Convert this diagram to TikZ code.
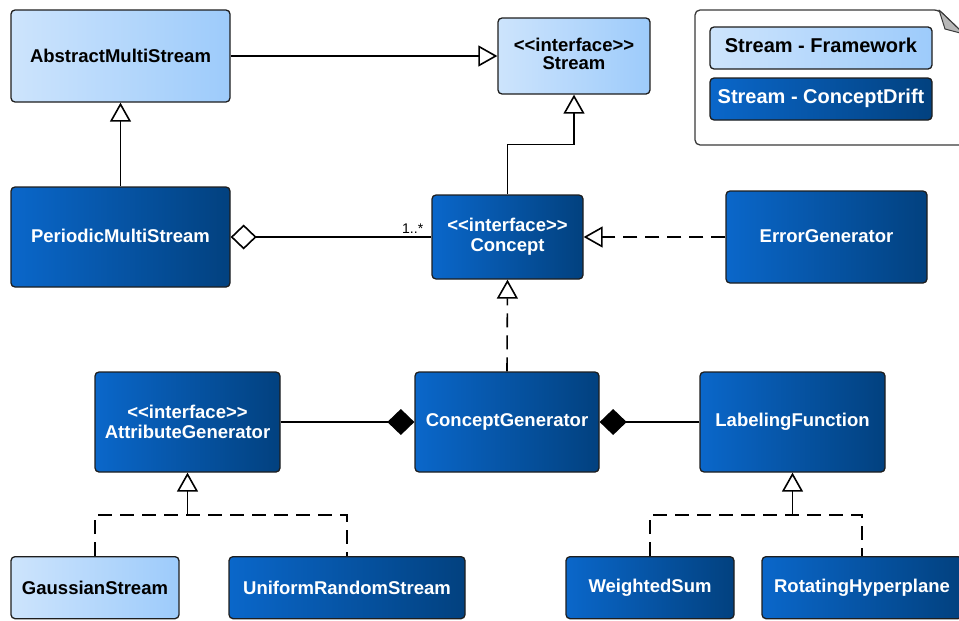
\documentclass[tikz,border=0pt]{standalone}
\usepackage{fontspec}
\setmainfont{Liberation Sans}[Ligatures=TeXOff]
\usetikzlibrary{arrows.meta,calc}
\definecolor{lightL}{HTML}{CDE4FC}
\definecolor{lightR}{HTML}{9DCBFB}
\definecolor{darkL}{HTML}{0A67CA}
\definecolor{darkR}{HTML}{02417F}
\definecolor{edgec}{HTML}{1E1E1E}
\definecolor{notec}{HTML}{3A3A3A}
\definecolor{foldc}{HTML}{B8B8B8}
\tikzset{
  box/.style={draw=edgec, line width=1.3pt, rounded corners=4pt, inner sep=0pt, align=center,
    font=\fontsize{18.5}{20}\selectfont\bfseries},
  lightbox/.style={box, left color=lightL, right color=lightR, text=black},
  darkbox/.style={box, left color=darkL, right color=darkR, text=white},
  legbox/.style={font=\fontsize{20}{22}\selectfont\bfseries},
  conn/.style={line width=1.6pt, draw=black},
  inh/.style={conn, -{Triangle[open, length=19pt, width=21pt, line width=1.6pt]}},
  dashedline/.style={conn, dash pattern=on 14pt off 8pt},
  real/.style={dashedline, -{Triangle[open, length=19pt, width=21pt, line width=1.6pt]}},
  aggr/.style={conn, {Diamond[open, length=26pt, width=25pt, line width=1.6pt]}-},
  comp/.style={conn, -{Diamond[length=27pt, width=26pt]}},
}
\begin{document}
\begin{tikzpicture}[x=1pt, y=-1pt]
\useasboundingbox (0,0) rectangle (959,621);
\clip (0,0) rectangle (959,621);

% legend note
\draw[notec, line width=1.3pt, fill=white, rounded corners=5pt]
  (695,145) -- (695,10) -- (939,10) -- (964,34) -- (964,145) -- cycle;
\fill[foldc, draw=notec, line width=1pt, line join=round] (939,10) -- (945,29) -- (964,34) -- cycle;
\node[lightbox, legbox, minimum width=222pt, minimum height=42pt] (legA) at (821,48) {\raisebox{5pt}{Stream - Framework}};
\node[darkbox, legbox, minimum width=222pt, minimum height=42pt] (legB) at (821,99) {\raisebox{5pt}{Stream - ConceptDrift}};

% classes
\node[lightbox, minimum width=219pt, minimum height=92pt] (ams) at (120.5,56) {AbstractMultiStream};
\node[lightbox, minimum width=152pt, minimum height=76pt] (stream) at (574,56) {\raisebox{2pt}{\begin{tabular}{@{}c@{}}<<interface>>\\[-2pt]Stream\end{tabular}}};
\node[darkbox, minimum width=219pt, minimum height=100pt] (pms) at (120.5,237) {\raisebox{2pt}{PeriodicMultiStream}};
\node[darkbox, minimum width=151pt, minimum height=84pt] (concept) at (507.5,237) {<<interface>>\\Concept};
\node[darkbox, minimum width=201pt, minimum height=92pt] (err) at (826.5,237) {\raisebox{2pt}{ErrorGenerator}};
\node[darkbox, minimum width=185pt, minimum height=100pt] (attr) at (187.5,422) {<<interface>>\\AttributeGenerator};
\node[darkbox, minimum width=184pt, minimum height=100pt] (cg) at (507,422) {\raisebox{2pt}{ConceptGenerator}};
\node[darkbox, minimum width=185pt, minimum height=100pt] (lab) at (792.5,422) {\raisebox{2pt}{LabelingFunction}};
\node[lightbox, minimum width=168pt, minimum height=62pt, anchor=north] (gauss) at (95,556) {GaussianStream};
\node[darkbox, minimum width=236pt, minimum height=62pt, anchor=north] (unif) at (347,556) {UniformRandomStream};
\node[darkbox, minimum width=168pt, minimum height=62pt, anchor=north] (ws) at (650,556) {WeightedSum};
\node[darkbox, minimum width=200pt, minimum height=62pt, anchor=north] (rh) at (862,556) {RotatingHyperplane};

% connectors
\draw[inh] (ams.east) -- (stream.west);
\draw[inh] (pms.north) -- (ams.south);
\draw[inh] (concept.north) -- ++(0,-50) -| (stream.south);
\draw[aggr] (pms.east) -- (concept.west)
  node[pos=1, anchor=south east, xshift=-4pt, yshift=-1pt, font=\fontsize{14}{15}\selectfont] {1..*};
\draw[real] (err.west) -- (concept.east);
\draw[real] (cg.north) -- (concept.south);
\draw[comp] (attr.east) -- (cg.west);
\draw[comp] (lab.west) -- (cg.east);

\coordinate (j1) at (187.5,515);
\draw[dashedline] (gauss.north) |- (j1) -| (unif.north);
\draw[inh] (j1) -- (attr.south);
\coordinate (j2) at (792.5,515);
\draw[dashedline] (ws.north) |- (j2) -| (rh.north);
\draw[inh] (j2) -- (lab.south);
\end{tikzpicture}
\end{document}
